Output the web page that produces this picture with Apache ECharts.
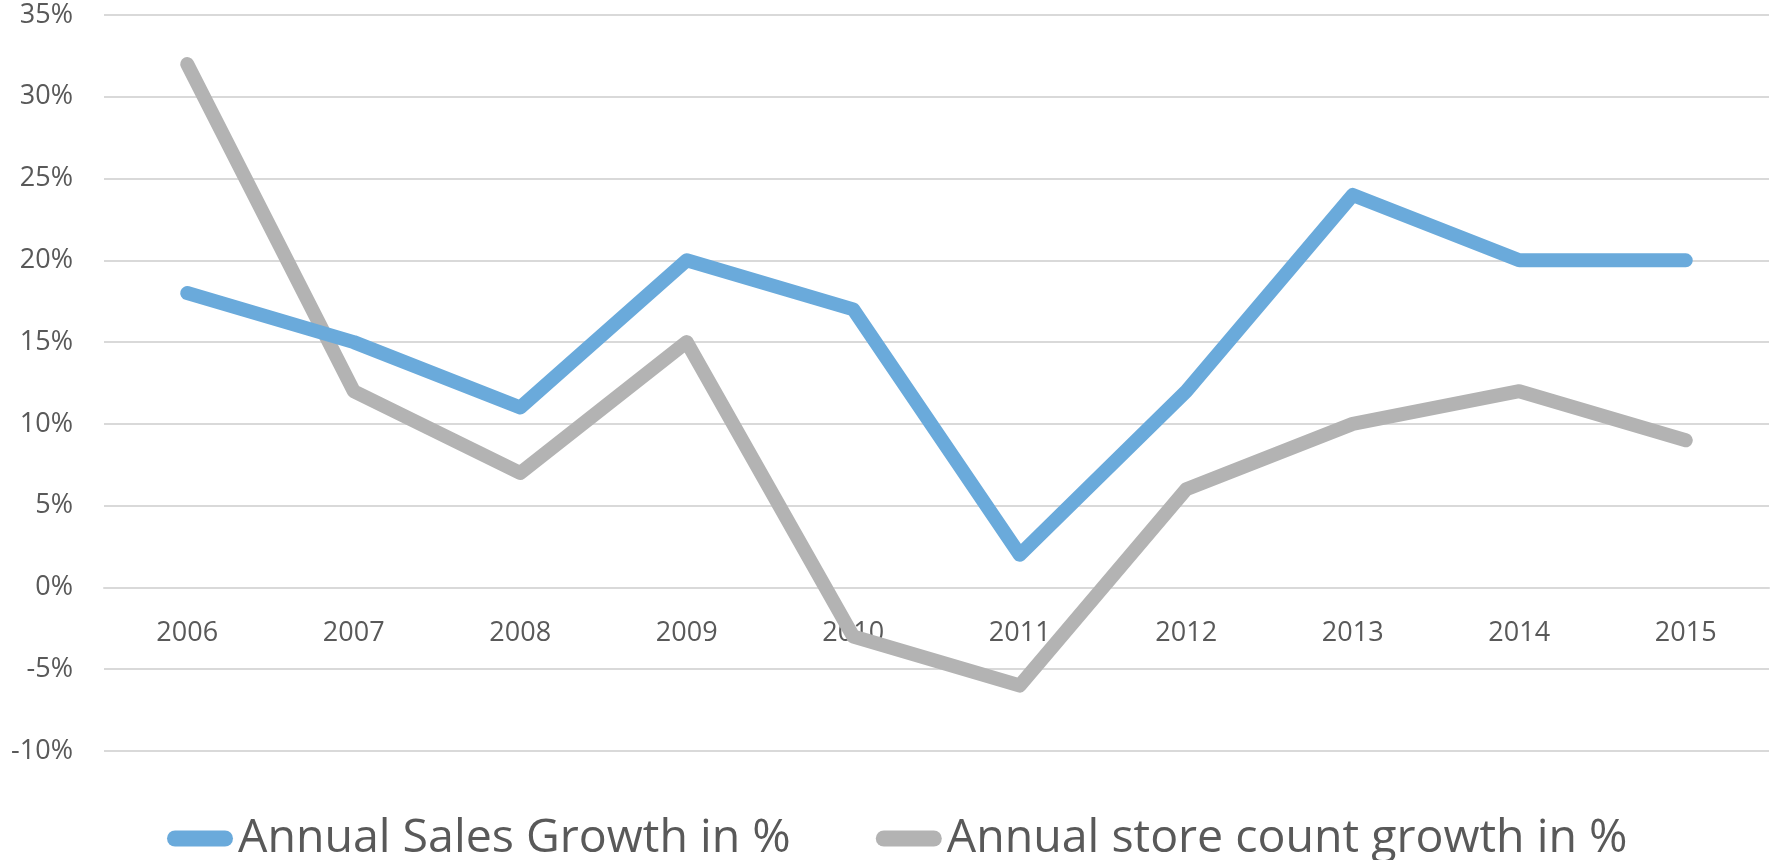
<!DOCTYPE html>
<html>
<head>
<meta charset="utf-8">
<script src="https://cdn.jsdelivr.net/npm/echarts@6/dist/echarts.min.js"></script>
<style>
  html, body { margin: 0; padding: 0; background: #ffffff; }
  #chart { width: 1775px; height: 860px; }
</style>
</head>
<body>
<div id="chart"></div>
<script>
// Years on the category axis
const years = ['2006', '2007', '2008', '2009', '2010', '2011', '2012', '2013', '2014', '2015'];

// Growth rates in percent
const salesGrowth = [18, 15, 11, 20, 17, 2, 12, 24, 20, 20];
const storeGrowth = [32, 12, 7, 15, -3, -6, 6, 10, 12, 9];

const seriesNames = ['Annual Sales Growth in %', 'Annual store count growth in %'];

// Value axis range
const yMin = -10, yMax = 35, yStep = 5;

const textColor = '#595959';
const gridColor = '#d9d9d9';
const fontFamily = '"Open Sans", "Noto Sans", sans-serif';

// Plot box
const gridTop = 15, gridBottom = 109, chartHeight = 860;
const plotHeight = chartHeight - gridTop - gridBottom;
// Lift the category axis from the bottom of the plot up to the 0% line
const zeroOffset = -plotHeight * (0 - yMin) / (yMax - yMin);

// Capsule-shaped legend marker
const capsule = 'path://M8,0 L58,0 A8,8 0 0 1 58,16 L8,16 A8,8 0 0 1 8,0 Z';

const chart = echarts.init(document.getElementById('chart'), null, { renderer: 'canvas' });

chart.setOption({
  backgroundColor: '#ffffff',
  animation: false,
  grid: { left: 104, right: 6, top: gridTop, bottom: gridBottom, containLabel: false },
  legend: {
    left: 162,
    top: 810,
    itemWidth: 66,
    itemHeight: 16,
    itemGap: 85,
    icon: capsule,
    textStyle: { fontFamily: fontFamily, fontSize: 46.5, color: textColor },
    data: seriesNames
  },
  xAxis: {
    type: 'category',
    data: years,
    boundaryGap: true,
    offset: zeroOffset,
    axisLine: { show: true, onZero: false, lineStyle: { color: gridColor, width: 2 } },
    axisTick: { show: false },
    axisLabel: { color: textColor, fontFamily: fontFamily, fontSize: 27, margin: 32 },
    splitLine: { show: false }
  },
  yAxis: {
    type: 'value',
    min: yMin,
    max: yMax,
    interval: yStep,
    axisLine: { show: false },
    axisTick: { show: false },
    axisLabel: {
      color: textColor, fontFamily: fontFamily, fontSize: 27, margin: 31,
      formatter: v => v + '%'
    },
    splitLine: { show: true, lineStyle: { color: gridColor, width: 2 } }
  },
  series: [
    {
      name: seriesNames[0],
      type: 'line',
      data: salesGrowth,
      symbol: 'none',
      color: '#6aaadb',
      lineStyle: { color: '#6aaadb', width: 14, cap: 'round', join: 'round' },
      z: 3
    },
    {
      name: seriesNames[1],
      type: 'line',
      data: storeGrowth,
      symbol: 'none',
      color: '#b3b3b3',
      lineStyle: { color: '#b3b3b3', width: 14, cap: 'round', join: 'round' },
      z: 2
    }
  ]
});
</script>
</body>
</html>
